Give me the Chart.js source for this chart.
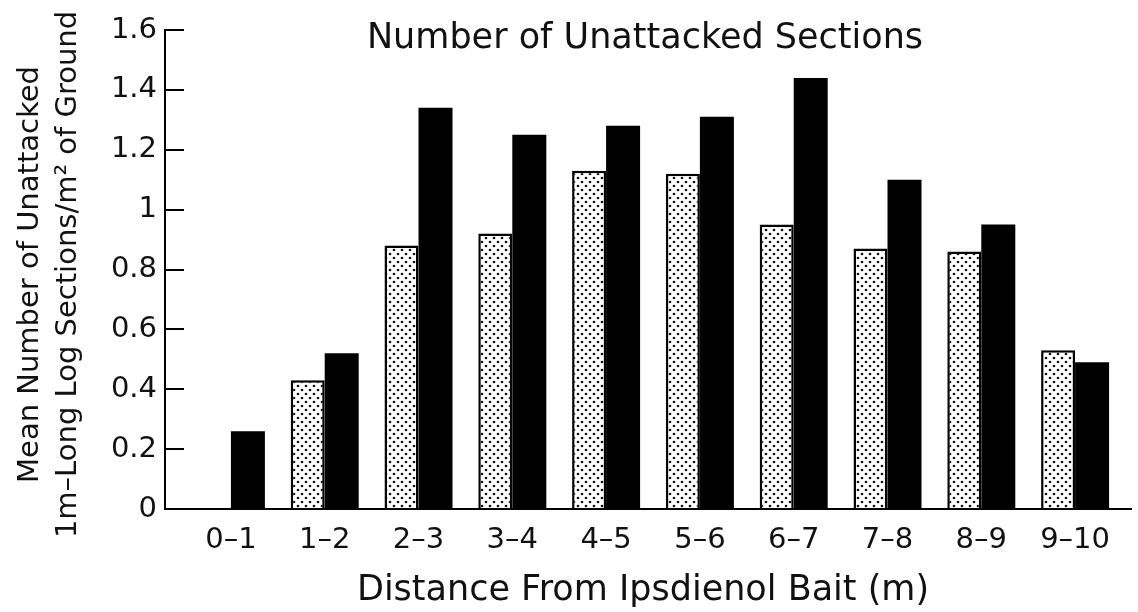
<!DOCTYPE html>
<html>
<head>
<meta charset="utf-8">
<script src="https://cdn.jsdelivr.net/npm/chart.js@4.4.0/dist/chart.umd.min.js"></script>
<style>
  html, body { margin: 0; padding: 0; background: #fff; }
</style>
</head>
<body>
<canvas id="chart" width="1138" height="612"></canvas>
<script>
// ===== Data =====
const distances = ['0–1', '1–2', '2–3', '3–4', '4–5', '5–6', '6–7', '7–8', '8–9', '9–10'];
const dottedValues = [0, 0.43, 0.88, 0.92, 1.13, 1.12, 0.95, 0.87, 0.86, 0.53];
const blackValues = [0.26, 0.52, 1.34, 1.25, 1.28, 1.31, 1.44, 1.10, 0.95, 0.49];
const yTickValues = [0, 0.2, 0.4, 0.6, 0.8, 1, 1.2, 1.4, 1.6];
const yTickLabels = ['0', '0.2', '0.4', '0.6', '0.8', '1', '1.2', '1.4', '1.6'];

const chartTitle = 'Number of Unattacked Sections';
const xTitle = 'Distance From Ipsdienol Bait (m)';
const yTitleLines = ['Mean Number of Unattacked', '1m–Long Log Sections/m² of Ground'];

const FONT = 'DejaVu Sans';
const TICK_LEN = 19;

// stippled fill for the light bars
function makeDots() {
  const c = document.createElement('canvas');
  c.width = 8;
  c.height = 8;
  const g = c.getContext('2d');
  g.fillStyle = '#fff';
  g.fillRect(0, 0, 8, 8);
  g.fillStyle = '#111';
  [[2, 2], [6, 6]].forEach(([x, y]) => {
    g.beginPath();
    g.arc(x, y, 1.35, 0, Math.PI * 2);
    g.fill();
  });
  return document.getElementById('chart').getContext('2d').createPattern(c, 'repeat');
}

// ===== Axis lines + titles =====
const decor = {
  id: 'decor',
  afterDatasetsDraw(chart) {
    const { ctx, chartArea } = chart;
    const axisX = chartArea.left - TICK_LEN;
    ctx.save();
    ctx.strokeStyle = '#000';
    ctx.lineWidth = 2;
    ctx.beginPath();
    ctx.moveTo(axisX, chartArea.top - 1);
    ctx.lineTo(axisX, chartArea.bottom);
    ctx.lineTo(chartArea.right + 10, chartArea.bottom);
    ctx.stroke();

    ctx.fillStyle = '#111';
    ctx.textAlign = 'center';
    ctx.textBaseline = 'alphabetic';
    ctx.font = `35px "${FONT}"`;
    ctx.fillText(chartTitle, 645, 48);
    ctx.fillText(xTitle, 643, 600);

    // rotated y title, two lines
    ctx.font = `29px "${FONT}"`;
    const midY = (chartArea.top + chartArea.bottom) / 2 + 5;
    [38, 76].forEach((bx, i) => {
      ctx.save();
      ctx.translate(bx, midY);
      ctx.rotate(-Math.PI / 2);
      ctx.fillText(yTitleLines[i], 0, 0);
      ctx.restore();
    });
    ctx.restore();
  },
};

const dots = makeDots();

new Chart(document.getElementById('chart'), {
  type: 'bar',
  data: {
    labels: distances,
    datasets: [
      {
        label: 'dotted',
        data: dottedValues,
        backgroundColor: dots,
        borderColor: '#000',
        borderWidth: 2.5,
        categoryPercentage: 0.725,
        barPercentage: 1,
      },
      {
        label: 'black',
        data: blackValues,
        backgroundColor: '#000',
        borderWidth: 0,
        categoryPercentage: 0.725,
        barPercentage: 1,
      },
    ],
  },
  options: {
    responsive: false,
    devicePixelRatio: 1,
    animation: false,
    layout: { padding: { top: 30, right: 16, left: 0, bottom: 0 } },
    plugins: { legend: { display: false }, title: { display: false }, tooltip: { enabled: false } },
    scales: {
      x: {
        afterFit: (s) => { s.height = 103; },
        grid: { display: false },
        border: { display: false },
        ticks: {
          padding: 6,
          color: '#111',
          maxRotation: 0,
          autoSkip: false,
          font: { family: FONT, size: 29 },
        },
      },
      y: {
        min: 0,
        max: 1.6,
        afterFit: (s) => { s.width = 184; },
        afterBuildTicks: (s) => { s.ticks = yTickValues.map((v) => ({ value: v })); },
        grid: { drawOnChartArea: false, drawTicks: true, tickLength: TICK_LEN, color: '#000', lineWidth: 2 },
        border: { display: false },
        ticks: {
          padding: 8,
          color: '#111',
          font: { family: FONT, size: 29 },
          callback: (v) => yTickLabels[yTickValues.indexOf(v)],
        },
      },
    },
  },
  plugins: [decor],
});
</script>
</body>
</html>
